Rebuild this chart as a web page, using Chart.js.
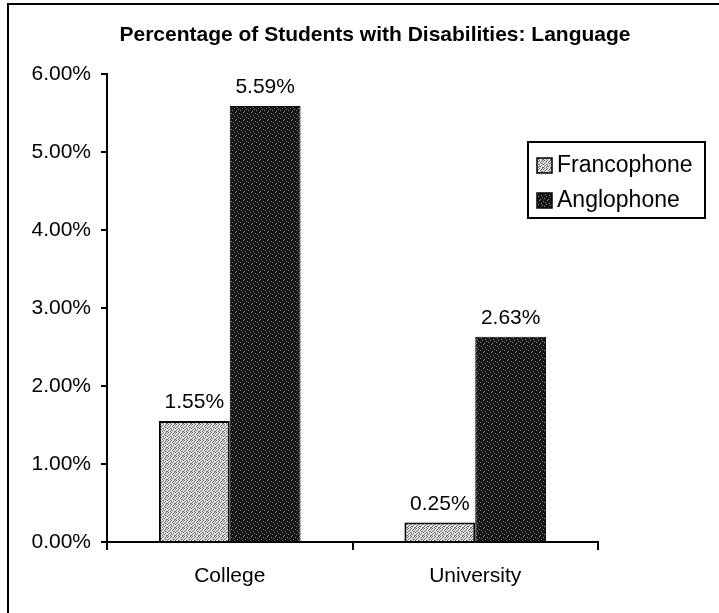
<!DOCTYPE html>
<html>
<head>
<meta charset="utf-8">
<script src="https://cdn.jsdelivr.net/npm/chart.js@4.4.1/dist/chart.umd.min.js"></script>
<style>
  html, body { margin: 0; padding: 0; background: #fff; }
  #chart { display: block; }
</style>
</head>
<body>
<canvas id="chart" width="719" height="613"></canvas>
<script>
// Chart data
const chartTitle = 'Percentage of Students with Disabilities: Language';
const categories = ['College', 'University'];
const seriesNames = ['Francophone', 'Anglophone'];
const francophone = [1.55, 0.25];
const anglophone = [5.59, 2.63];
const yTicks = [0, 1, 2, 3, 4, 5, 6];

const FONT = '"Liberation Sans", Arial, sans-serif';

// Speckled fills like the scanned original
function makePattern(base, dot, rows) {
    const c = document.createElement('canvas');
    c.width = rows[0].length;
    c.height = rows.length;
    const g = c.getContext('2d');
    g.fillStyle = base;
    g.fillRect(0, 0, c.width, c.height);
    g.fillStyle = dot;
    rows.forEach(function(row, y) {
        for (let x = 0; x < row.length; x++) {
            if (row[x] === '1') g.fillRect(x, y, 1, 1);
        }
    });
    return g.createPattern(c, 'repeat');
}

const lightFill = makePattern('#e4e4e4', '#6a6a6a', [
    '10010010', '00100101', '01001000', '10000110',
    '00110001', '01000100', '10011000', '00100011'
]);
const darkFill = makePattern('#141414', '#8a8a8a', [
    '00010000', '00000001', '01000000', '00000100',
    '00100000', '00000010', '10000000', '00001000'
]);

// Frame, title, value labels and legend
const decorations = {
    id: 'decorations',
    beforeDraw: function(chart) {
        const ctx = chart.ctx;
        ctx.save();
        ctx.fillStyle = '#fff';
        ctx.fillRect(0, 0, chart.width, chart.height);
        ctx.strokeStyle = '#000';
        ctx.lineWidth = 2;
        ctx.beginPath();
        ctx.moveTo(8, chart.height);
        ctx.lineTo(8, 4);
        ctx.lineTo(chart.width, 4);
        ctx.stroke();
        ctx.restore();
    },
    afterDatasetsDraw: function(chart) {
        const ctx = chart.ctx;
        ctx.save();
        ctx.fillStyle = '#000';
        ctx.textAlign = 'center';
        ctx.textBaseline = 'alphabetic';
        ctx.font = '21px ' + FONT;
        chart.data.datasets.forEach(function(ds, i) {
            chart.getDatasetMeta(i).data.forEach(function(bar, j) {
                ctx.fillText(ds.data[j].toFixed(2) + '%', bar.x, bar.y - 13);
            });
        });

        // title
        ctx.font = 'bold 21px ' + FONT;
        ctx.fillText(chartTitle, 375, 41);

        // legend box
        const lx = 528, ly = 142, lw = 177, lh = 76;
        ctx.fillStyle = '#fff';
        ctx.fillRect(lx, ly, lw, lh);
        ctx.strokeStyle = '#000';
        ctx.lineWidth = 2;
        ctx.strokeRect(lx, ly, lw, lh);
        ctx.font = '23px ' + FONT;
        ctx.textAlign = 'left';
        ctx.textBaseline = 'middle';
        chart.data.datasets.forEach(function(ds, i) {
            const cy = ly + 23 + i * 35;
            ctx.fillStyle = ds.backgroundColor;
            ctx.fillRect(537, cy - 7, 15, 15);
            ctx.lineWidth = 1.5;
            ctx.strokeRect(537, cy - 7, 15, 15);
            ctx.fillStyle = '#000';
            ctx.fillText(ds.label, 557, cy + 1);
        });
        ctx.restore();
    }
};

const ctx = document.getElementById('chart');
new Chart(ctx, {
    type: 'bar',
    data: {
        labels: categories,
        datasets: [{
            label: seriesNames[0],
            data: francophone,
            backgroundColor: lightFill,
            borderColor: '#000',
            borderWidth: 2
        }, {
            label: seriesNames[1],
            data: anglophone,
            backgroundColor: darkFill,
            borderColor: '#000',
            borderWidth: 1
        }]
    },
    options: {
        responsive: false,
        animation: false,
        devicePixelRatio: 1,
        datasets: {
            bar: {
                categoryPercentage: 0.577,
                barPercentage: 1
            }
        },
        layout: {
            padding: { left: 0, top: 74, right: 121, bottom: 0 }
        },
        plugins: {
            legend: { display: false },
            title: { display: false },
            tooltip: { enabled: false }
        },
        scales: {
            x: {
                afterFit: function(scale) { scale.height = 71; },
                border: { color: '#000', width: 2 },
                grid: {
                    drawOnChartArea: false,
                    color: '#000',
                    lineWidth: 2,
                    tickLength: 8
                },
                ticks: {
                    color: '#000',
                    padding: 14,
                    font: { family: FONT, size: 21 }
                }
            },
            y: {
                min: 0,
                max: 6,
                afterFit: function(scale) { scale.width = 107; },
                afterBuildTicks: function(scale) {
                    scale.ticks = yTicks.map(function(v) { return { value: v }; });
                },
                border: { color: '#000', width: 2 },
                grid: {
                    drawOnChartArea: false,
                    color: '#000',
                    lineWidth: 2,
                    tickLength: 6
                },
                ticks: {
                    color: '#000',
                    padding: 10,
                    font: { family: FONT, size: 21 },
                    callback: function(value) {
                        return Number(value).toFixed(2) + '%';
                    }
                }
            }
        }
    },
    plugins: [decorations]
});
</script>
</body>
</html>
